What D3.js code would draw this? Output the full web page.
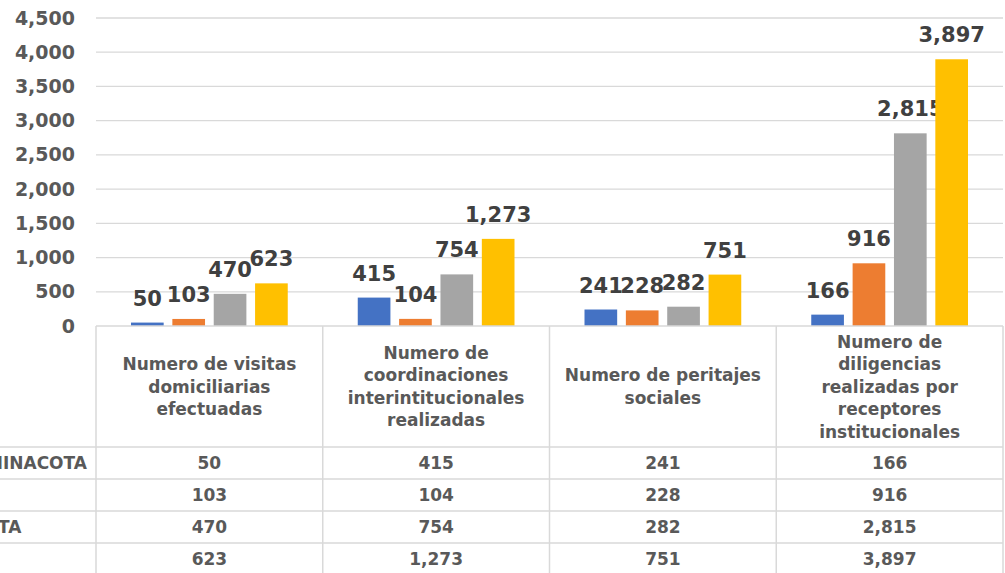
<!DOCTYPE html>
<html><head><meta charset="utf-8">
<script src="https://cdn.jsdelivr.net/npm/d3@7"></script>
<style>
body{margin:0;background:#fff}
svg{display:block}
text{font-family:"DejaVu Sans",sans-serif;font-weight:bold}
</style></head>
<body><svg id="c" width="1005" height="573"></svg>
<script>
// ---- data ----
const categoryLines = [
  ["Numero de visitas", "domiciliarias", "efectuadas"],
  ["Numero de", "coordinaciones", "interintitucionales", "realizadas"],
  ["Numero de peritajes", "sociales"],
  ["Numero de", "diligencias", "realizadas por", "receptores", "institucionales"]
];
const seriesNames = ["CZ CHINACOTA", "TIBU", "CUCUTA", "Total"];
const series1 = [50, 415, 241, 166];
const series2 = [103, 104, 228, 916];
const series3 = [470, 754, 282, 2815];
const series4 = [623, 1273, 751, 3897];
const seriesColors = ["#4472C4", "#ED7D31", "#A5A5A5", "#FFC000"];
const yTicks = [0, 500, 1000, 1500, 2000, 2500, 3000, 3500, 4000, 4500];

const seriesValues = [series1, series2, series3, series4];
const fmt = d3.format(",");

// ---- layout ----
const plotLeft = 96, plotRight = 1003, plotTop = 18, plotBase = 326;
const svg = d3.select("#c");
const grid = "#d9d9d9";

const x0 = d3.scaleBand().domain(d3.range(categoryLines.length)).range([plotLeft, plotRight]);
const x1 = d3.scaleBand().domain(d3.range(seriesValues.length))
  .range([35, x0.bandwidth() - 35]).paddingInner(0.21);
const y = d3.scaleLinear().domain([0, 4500]).range([plotBase, plotTop]);

// gridlines
svg.append("g").selectAll("line").data(yTicks.filter(d => d > 0)).join("line")
  .attr("x1", plotLeft).attr("x2", plotRight)
  .attr("y1", d => y(d)).attr("y2", d => y(d))
  .attr("stroke", grid).attr("stroke-width", 1.3);

// y axis
const ya = svg.append("g").attr("transform", `translate(${plotLeft},0)`)
  .call(d3.axisLeft(y).tickValues(yTicks).tickFormat(fmt).tickSize(0).tickPadding(21));
ya.select(".domain").remove();
ya.selectAll("text").attr("fill", "#595959").style("font-size", "19px")
  .style("font-family", '"DejaVu Sans",sans-serif').style("font-weight", "bold");

// bars
seriesValues.forEach((vals, i) => {
  const g = svg.append("g");
  g.selectAll("rect").data(vals).join("rect")
    .attr("x", (d, j) => x0(j) + x1(i))
    .attr("y", d => y(d))
    .attr("width", x1.bandwidth())
    .attr("height", d => plotBase - y(d))
    .attr("fill", seriesColors[i]);
  g.selectAll("text").data(vals).join("text")
    .attr("x", (d, j) => x0(j) + x1(i) + x1.bandwidth() / 2)
    .attr("y", d => y(d) - 17)
    .attr("text-anchor", "middle")
    .attr("fill", "#404040")
    .style("font-size", "21px")
    .text(d => fmt(d));
});

// ---- data table ----
const rowY = d3.scaleBand().domain(d3.range(seriesValues.length)).range([447, 575]);
const tg = svg.append("g");
tg.append("line").attr("x1", plotLeft).attr("x2", plotRight).attr("y1", plotBase).attr("y2", plotBase)
  .attr("stroke", grid).attr("stroke-width", 1.5);
tg.selectAll("line.r").data(d3.range(seriesValues.length + 1)).join("line").attr("class", "r")
  .attr("x1", 0).attr("x2", plotRight)
  .attr("y1", d => 447 + d * rowY.step()).attr("y2", d => 447 + d * rowY.step())
  .attr("stroke", grid).attr("stroke-width", 1.5);
tg.selectAll("line.c").data(d3.range(categoryLines.length + 1)).join("line").attr("class", "c")
  .attr("x1", d => plotLeft + d * x0.step()).attr("x2", d => plotLeft + d * x0.step())
  .attr("y1", plotBase).attr("y2", 575)
  .attr("stroke", grid).attr("stroke-width", 1.5);

// header category text
const lh = 22.5, headCenter = (plotBase + 447) / 2;
categoryLines.forEach((lines, j) => {
  const n = lines.length;
  tg.append("g").selectAll("text").data(lines).join("text")
    .attr("x", x0(j) + x0.bandwidth() / 2)
    .attr("y", (d, k) => headCenter + (k - (n - 1) / 2) * lh)
    .attr("dy", "0.36em")
    .attr("text-anchor", "middle")
    .attr("fill", "#595959")
    .style("font-size", "17px")
    .text(d => d);
});

// values
seriesValues.forEach((vals, i) => {
  tg.append("g").selectAll("text").data(vals).join("text")
    .attr("x", (d, j) => x0(j) + x0.bandwidth() / 2)
    .attr("y", rowY(i) + rowY.bandwidth() / 2)
    .attr("dy", "0.36em")
    .attr("text-anchor", "middle")
    .attr("fill", "#595959")
    .style("font-size", "17px")
    .text(d => fmt(d));
});

// row headers (left-aligned, partially cut off at the left edge)
const rh = tg.append("g").selectAll("text").data(seriesNames).join("text")
  .attr("y", (d, i) => rowY(i) + rowY.bandwidth() / 2)
  .attr("dy", "0.36em")
  .attr("fill", "#595959")
  .style("font-size", "17px")
  .text(d => d);
const firstLen = rh.nodes()[0].getComputedTextLength();
rh.attr("x", 87 - firstLen);
</script></body></html>
